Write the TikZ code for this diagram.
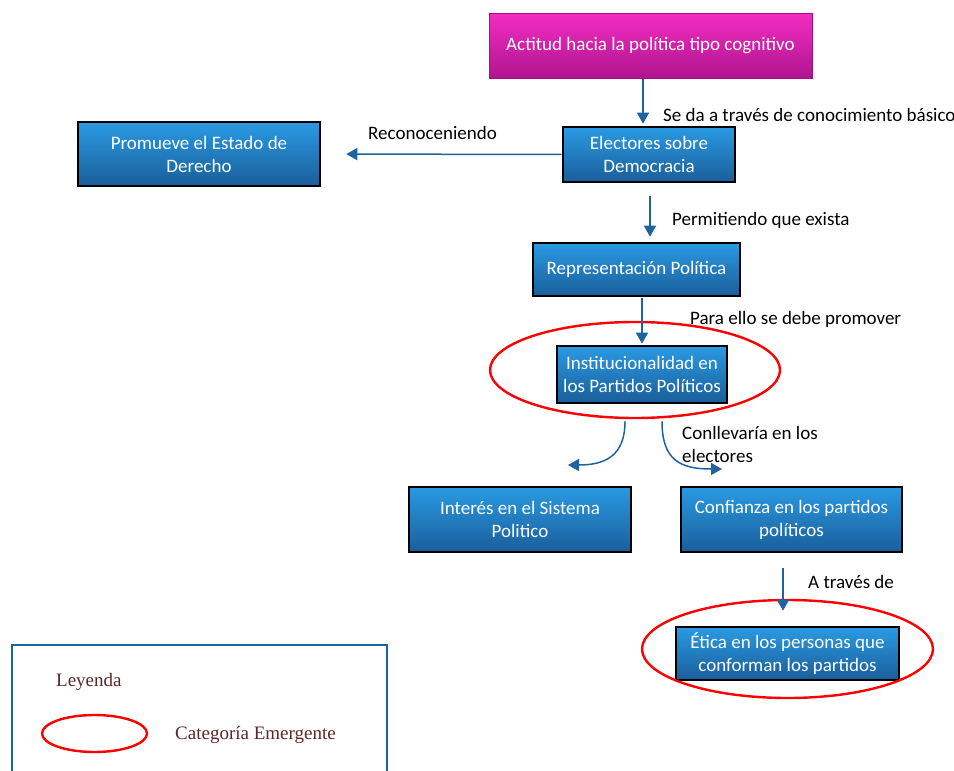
\documentclass[tikz,border=0pt]{standalone}
\usepackage{fontspec}
\setmainfont{Carlito}
\newfontfamily\legfont{Liberation Serif}
\usetikzlibrary{arrows.meta,shapes.geometric}

\definecolor{boxtop}{RGB}{42,154,227}
\definecolor{boxbot}{RGB}{26,94,154}
\definecolor{magtop}{RGB}{242,45,194}
\definecolor{magbot}{RGB}{176,21,143}
\definecolor{magline}{RGB}{160,16,127}
\definecolor{conncol}{RGB}{31,99,158}
\definecolor{legtext}{RGB}{90,40,40}

\begin{document}
\begin{tikzpicture}[x=1pt,y=-1pt]

\tikzset{bluebox/.style={draw=black, line width=2.6, top color=boxtop, bottom color=boxbot, text=white, align=center, inner sep=0pt, font=\fontsize{19}{23}\selectfont},
magbox/.style={draw=magline, line width=1, top color=magtop, bottom color=magbot, text=white, align=center, inner sep=0pt, font=\fontsize{19}{23}\selectfont},
conn/.style={draw=conncol, line width=1.5, -{Triangle[width=12pt,length=11pt]}},
lbl/.style={anchor=west, inner sep=0pt, align=left, font=\fontsize{19}{23}\selectfont},
emer/.style={draw=red, line width=2.4, ellipse, inner sep=0pt}}

\useasboundingbox (0,0) rectangle (954,771);
\clip (0,0) rectangle (954,771);

% boxes
\node [magbox, minimum width=323, minimum height=65] (top) at (650.5,45.5) {Actitud hacia la política tipo cognitivo};
\node [bluebox, minimum width=172, minimum height=55] (elect) at (649,154.5) {Electores sobre\\Democracia};
\node [bluebox, minimum width=242, minimum height=64] (prom) at (199,154) {Promueve el Estado de\\Derecho};
\node [bluebox, minimum width=207, minimum height=53] (repr) at (636.5,269.5) {Representación Política};
\node [bluebox, minimum width=170, minimum height=57] (inst) at (642,374.5) {Institucionalidad en\\los Partidos Políticos};
\node [bluebox, minimum width=222, minimum height=65] (inter) at (520,519.5) {Interés en el Sistema\\Politico};
\node [bluebox, minimum width=221, minimum height=65] (conf) at (791.5,519.5) {Confianza en los partidos\\políticos};
\node [bluebox, minimum width=223, minimum height=53] (etica) at (787.5,653.5) {Ética en los personas que\\conforman los partidos};

% emergent categories
\node [emer, minimum width=290, minimum height=96] (emerA) at (635,370) {};
\node [emer, minimum width=291, minimum height=98] (emerB) at (787.5,649) {};

% connectors
\draw [conn, shorten >=2pt] ([xshift=-7.5pt]top.south) -- ([xshift=-6pt]elect.north);
\draw [conn, shorten >=25pt] (elect.west) -- (prom.east);
\draw [conn, shorten <=13pt, shorten >=5pt] ([xshift=1pt]elect.south) -- ([xshift=1pt]elect.south |- repr.north);
\draw [conn, shorten <=1pt, shorten >=1pt] (inst.north |- repr.south) -- (inst.north);
\draw [conn, shorten <=15pt, shorten >=15pt] ([xshift=-8.5pt]conf.south) -- ([xshift=-4.5pt]etica.north);

\coordinate (lend) at (568,465);
\coordinate (rend) at (722,469);
\draw [conn] ([xshift=-17pt,yshift=-17pt]inst.south) .. controls (625,456) and (605,465) .. (lend);
\draw [conn] ([xshift=20pt,yshift=-17pt]inst.south) .. controls (662,460) and (680,469) .. (rend);

% labels
\node [lbl] (l1) at (663,115) {Se da a través de conocimiento básico};
\node [lbl] (l2) at (368,133) {Reconoceniendo};
\node [lbl] (l3) at (672,220) {Permitiendo que exista};
\node [lbl] (l4) at (690,319) {Para ello se debe promover};
\node [lbl] (l5) at (682,444) {Conllevaría en los\\electores};
\node [lbl] (l6) at (808,582) {A través de};

% legend
\draw [conncol, line width=2] (12,800) -- (12,645) -- (387,645) -- (387,800);
\node [anchor=west, inner sep=0pt, text=legtext, font=\legfont\fontsize{19}{22}\selectfont] (leg) at (56,682) {Leyenda};
\node [emer, minimum width=105, minimum height=37] (legell) at (94.5,733.5) {};
\node [anchor=west, inner sep=0pt, text=legtext, font=\legfont\fontsize{19}{22}\selectfont] (legcat) at (175,735) {Categoría Emergente};

\end{tikzpicture}
\end{document}
